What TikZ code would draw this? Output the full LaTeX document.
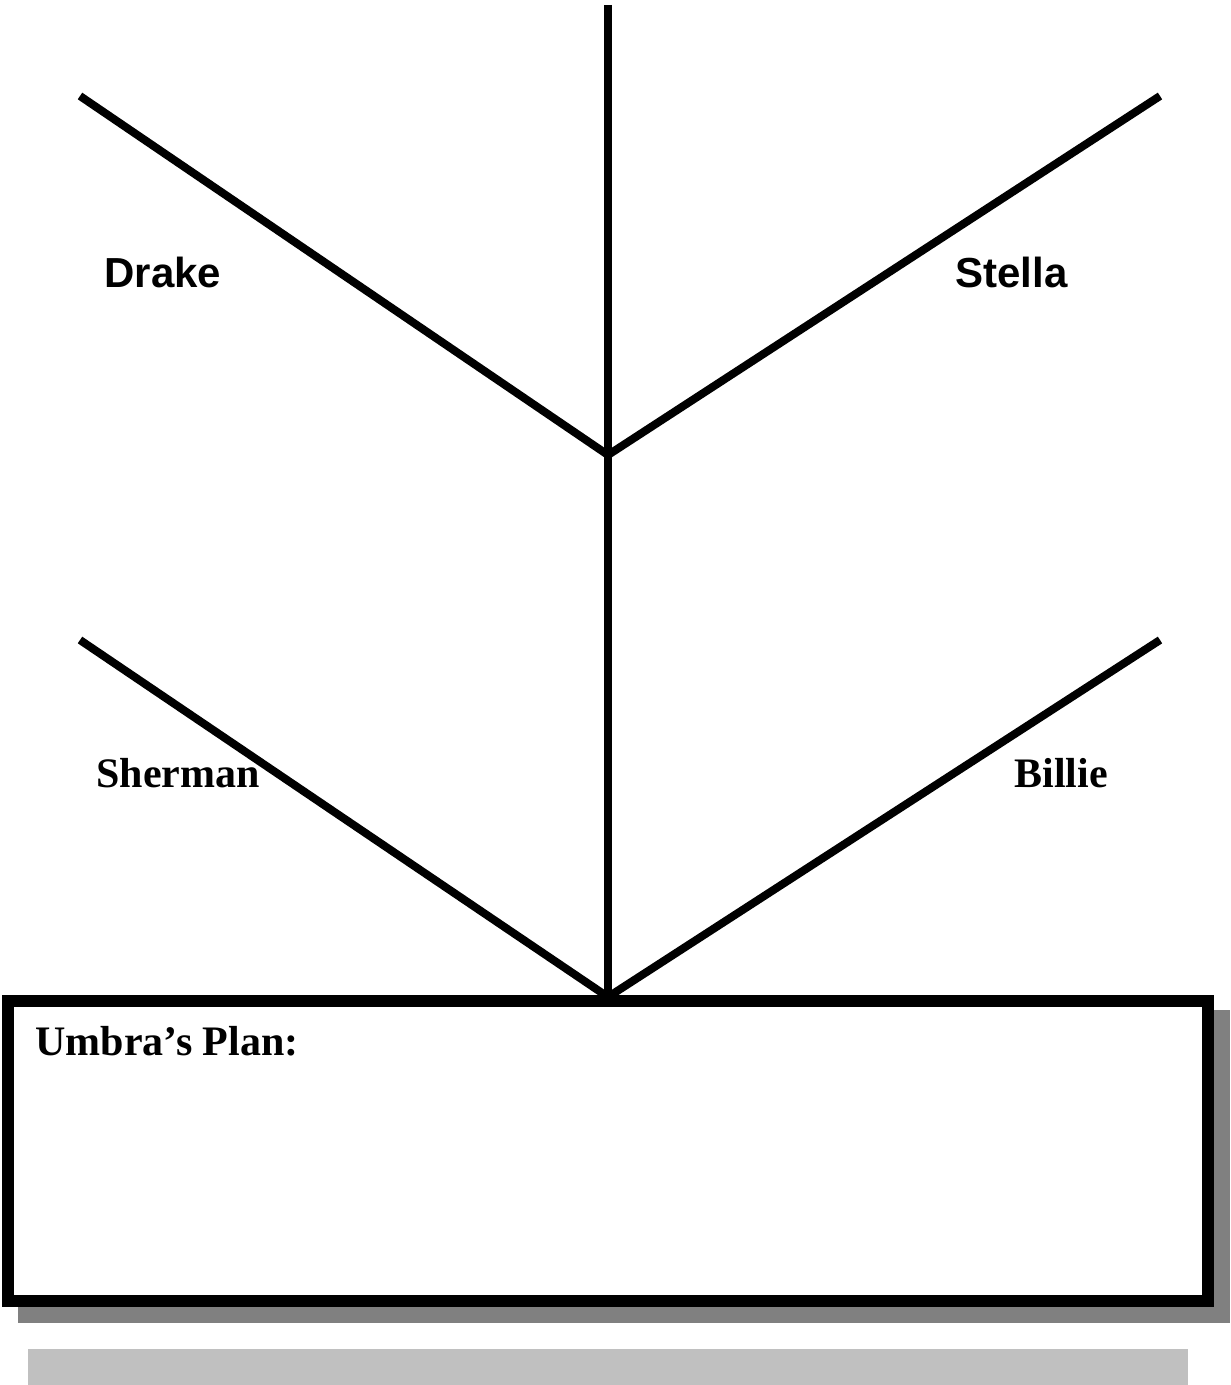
\documentclass[tikz,border=0pt]{standalone}
\usepackage{fontspec}
\setmainfont{Liberation Serif}
\newfontfamily\arialfont{Liberation Sans}
\definecolor{shadowgray}{HTML}{808080}
\definecolor{bargray}{HTML}{C0C0C0}
\begin{document}
\begin{tikzpicture}[x=0.5pt,y=-0.5pt,
  branch/.style={line width=4pt,draw=black},
  sanslabel/.style={anchor=base west,inner sep=0pt,font=\arialfont\bfseries\fontsize{21pt}{25pt}\selectfont},
  seriflabel/.style={anchor=base west,inner sep=0pt,font=\bfseries\fontsize{21pt}{25pt}\selectfont},
  planbox/.style={draw=black,fill=white,line width=6pt,inner sep=0pt,minimum width=599.75pt,minimum height=150pt},
  shadowbox/.style={fill=shadowgray,draw=none,inner sep=0pt,minimum width=606pt,minimum height=156.5pt},
  barbox/.style={fill=bargray,draw=none,inner sep=0pt,minimum width=580pt,minimum height=18pt}]
\useasboundingbox (0,0) rectangle (1230,1385);
% shadow and box
\node[shadowbox] (shadow) at (624,1166.5) {};
\node[planbox] (plan) at (607.75,1151) {};
\node[barbox] (bar) at (608,1367) {};
% coordinates
\coordinate (top) at (608,5);
\coordinate (fork) at (608,455);
\coordinate (base) at (608,997);
\coordinate (ul) at (80,96);
\coordinate (ur) at (1160,96);
\coordinate (ll) at (80,640);
\coordinate (lr) at (1160,640);
% lines
\draw[branch] (top) -- (fork) -- (base);
\draw[branch] (ul) -- (fork);
\draw[branch] (ur) -- (fork);
\draw[branch] (ll) -- (base);
\draw[branch] (lr) -- (base);
% labels
\node[sanslabel] (drake) at (104,288) {Drake};
\node[sanslabel] (stella) at (955,288) {Stella};
\node[seriflabel] (sherman) at (96,787) {Sherman};
\node[seriflabel] (billie) at (1014,787) {Billie};
\node[seriflabel] (umbra) at (35,1055) {Umbra’s Plan:};
\end{tikzpicture}
\end{document}
